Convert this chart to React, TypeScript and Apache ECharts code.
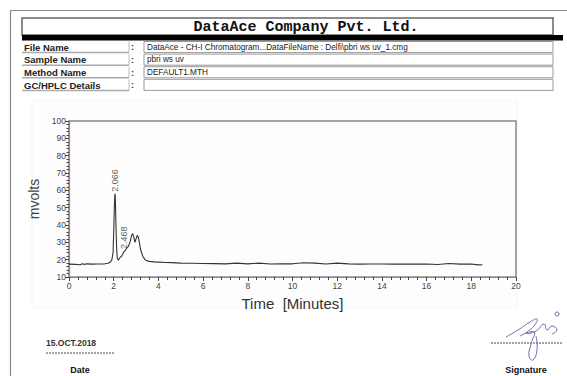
import React, { useEffect, useRef } from "react";
import * as echarts from "echarts";

// ---- data ----
const times = [0, 0.3, 0.5, 0.6, 0.7, 0.8, 1.0, 1.3, 1.6, 1.75, 1.85, 1.92, 1.97, 2.0, 2.03, 2.05, 2.066, 2.08, 2.1, 2.13, 2.16, 2.2, 2.25, 2.3, 2.35, 2.4, 2.45, 2.5, 2.55, 2.6, 2.65, 2.7, 2.75, 2.8, 2.85, 2.9, 2.95, 3.0, 3.05, 3.1, 3.15, 3.2, 3.3, 3.4, 3.5, 3.6, 3.8, 4.0, 4.3, 4.6, 5.0, 5.5, 6.0, 6.5, 7.0, 7.5, 8.0, 8.5, 9.0, 9.5, 10.0, 10.5, 11.0, 11.5, 12.0, 12.5, 13.0, 13.5, 14.0, 14.5, 15.0, 15.5, 16.0, 16.5, 17.0, 17.5, 18.0, 18.3, 18.5];
const mvolts = [17.4, 17.3, 17.1, 17.6, 17.3, 17.6, 17.4, 17.5, 17.6, 17.9, 18.6, 20, 24, 36, 51, 57, 58, 52, 40, 27, 21, 19.8, 20.5, 21.5, 22, 23, 24.5, 25, 26, 27, 27.5, 29, 31, 34, 35, 33, 30, 32, 34, 33, 30, 26, 22, 20, 19.3, 19, 18.7, 18.6, 18.4, 18.3, 18.0, 17.9, 17.8, 17.7, 17.6, 18.0, 17.6, 18.0, 17.5, 17.6, 17.6, 18.2, 18.0, 17.5, 18.0, 17.6, 17.4, 17.5, 17.5, 17.4, 17.5, 17.4, 17.5, 17.2, 17.8, 17.4, 17.5, 17.0, 17.1];
const peakTimes = [2.066, 2.468];
const peakHeights = [58, 25];

const headerTitle = "DataAce Company Pvt. Ltd.";
const rowLabels = ["File Name", "Sample Name", "Method Name", "GC/HPLC Details"];
const rowValues = [
  "DataAce - CH-I Chromatogram...DataFileName : Delfi\\pbri ws uv_1.cmg",
  "pbri ws uv",
  "DEFAULT1.MTH",
  "",
];
const dateText = "15.OCT.2018";

export default function App() {
  const ref = useRef<HTMLDivElement>(null);
  useEffect(() => {
    const chart = echarts.init(ref.current!, null, { renderer: "svg" });
    const pink = "#c4708c";
    const rowTop = 40.5;
    const rowH = 12.6;
    const graphics: any[] = [
      // chart image background
      { type: "rect", shape: { x: 32, y: 100, width: 485, height: 208 }, style: { fill: "#fdfdfd", stroke: "#f5f5f5", lineWidth: 1 }, z: -10 },
      // outer frame
      { type: "line", shape: { x1: 10.5, y1: 10.5, x2: 567, y2: 10.5 }, style: { stroke: "#888", lineWidth: 1.2 } },
      { type: "line", shape: { x1: 10.5, y1: 10.5, x2: 10.5, y2: 376 }, style: { stroke: "#888", lineWidth: 1.2 } },
      // title box
      { type: "rect", shape: { x: 22, y: 18, width: 531, height: 17 }, style: { fill: "#fff", stroke: "#666", lineWidth: 1.5 } },
      { type: "text", x: 306, y: 27, style: { text: headerTitle, font: "bold 15px 'Liberation Mono'", fill: "#111", align: "center", verticalAlign: "middle" } },
      { type: "rect", shape: { x: 22, y: 35, width: 541, height: 5.5 }, style: { fill: "#000" } },
      // footer
      { type: "text", x: 46, y: 343, style: { text: dateText, font: "bold 8.5px 'Liberation Sans'", fill: "#333", verticalAlign: "middle" } },
      { type: "line", shape: { x1: 46, y1: 353, x2: 115, y2: 353 }, style: { stroke: "#444", lineWidth: 1, lineDash: [2, 1] } },
      { type: "text", x: 80, y: 370, style: { text: "Date", font: "bold 9px 'Liberation Sans'", fill: "#111", align: "center", verticalAlign: "middle" } },
      { type: "line", shape: { x1: 491, y1: 343, x2: 562, y2: 343 }, style: { stroke: "#444", lineWidth: 1, lineDash: [2, 1] } },
      { type: "text", x: 526, y: 370, style: { text: "Signature", font: "bold 9px 'Liberation Sans'", fill: "#111", align: "center", verticalAlign: "middle" } },
      // signature scribble
      { type: "polyline", shape: { points: [[506, 337], [518, 330], [530, 322], [537, 319], [534, 326], [526, 333], [536, 331], [544, 324], [547, 330], [552, 326], [557, 330], [552, 334]], smooth: 0.5 }, style: { stroke: "#7a68aa", lineWidth: 1, fill: "none" } },
      { type: "polyline", shape: { points: [[520, 336], [534, 332], [531, 344], [529, 356], [533, 360], [537, 350], [536, 336]], smooth: 0.5 }, style: { stroke: "#7a68aa", lineWidth: 1, fill: "none" } },
      { type: "circle", shape: { cx: 557, cy: 314, r: 2 }, style: { stroke: "#7a68aa", lineWidth: 1, fill: "none" } },
    ];
    rowLabels.forEach((lab, i) => {
      const y = rowTop + i * rowH;
      graphics.push(
        { type: "line", shape: { x1: 22, y1: y + rowH - 0.5, x2: 129, y2: y + rowH - 0.5 }, style: { stroke: "#aaa", lineWidth: 1.5 } },
        { type: "line", shape: { x1: 129, y1: y + 1, x2: 129, y2: y + rowH - 0.5 }, style: { stroke: "#bbb", lineWidth: 1 } },
        { type: "text", x: 24, y: y + rowH / 2 + 0.5, style: { text: lab, font: "bold 9.5px 'Liberation Sans'", fill: "#222", verticalAlign: "middle" } },
        { type: "text", x: 131, y: y + rowH / 2 + 0.5, style: { text: ":", font: "bold 9px 'Liberation Sans'", fill: "#222", verticalAlign: "middle" } },
        { type: "rect", shape: { x: 144, y: y + 1, width: 409, height: rowH - 1.5 }, style: { fill: "none", stroke: "#999", lineWidth: 1 } },
        { type: "text", x: 147, y: y + rowH / 2 + 0.5, style: { text: rowValues[i], font: "8.2px 'Liberation Sans'", fill: "#222", verticalAlign: "middle" } }
      );
    });

    chart.setOption({
      animation: false,
      backgroundColor: "#fff",
      grid: { left: 69, top: 121, width: 447, height: 156, show: true, borderColor: "#888", borderWidth: 1.5, backgroundColor: "transparent" },
      xAxis: {
        type: "value", min: 0, max: 20, interval: 2,
        name: "Time  [Minutes]", nameLocation: "middle", nameGap: 19,
        nameTextStyle: { fontSize: 15, color: "#333", fontFamily: "Liberation Sans" },
        axisLine: { lineStyle: { color: pink, width: 1.2 } },
        axisTick: { length: 4, lineStyle: { color: "#444" } },
        minorTick: { show: true, splitNumber: 5, length: 3, lineStyle: { color: "#444" } },
        axisLabel: { fontSize: 8.5, color: "#444", fontFamily: "Liberation Sans", margin: 4 },
        splitLine: { show: false },
      },
      yAxis: {
        type: "value", min: 10, max: 100, interval: 10,
        name: "mvolts", nameLocation: "middle", nameGap: 20, nameRotate: 90,
        nameTextStyle: { fontSize: 14, color: "#444", fontFamily: "Liberation Sans" },
        axisLine: { show: true, lineStyle: { color: pink, width: 1.2 } },
        axisTick: { show: true, length: 4, lineStyle: { color: "#444" } },
        minorTick: { show: true, splitNumber: 5, length: 2.5, lineStyle: { color: "#444" } },
        axisLabel: { fontSize: 8.5, color: "#444", fontFamily: "Liberation Sans", margin: 3 },
        splitLine: { show: false },
      },
      series: [
        {
          type: "line",
          data: times.map((t, i) => [t, mvolts[i]]),
          showSymbol: false,
          lineStyle: { color: "#333", width: 1.1 },
          silent: true,
        },
        {
          type: "scatter",
          data: peakTimes.map((t, i) => [t, peakHeights[i]]),
          symbolSize: 0,
          label: {
            show: true, position: "top", distance: 2, rotate: 90, align: "left", verticalAlign: "middle",
            formatter: (p: any) => p.value[0].toFixed(3),
            fontSize: 9, color: "#333", fontFamily: "Liberation Sans",
          },
        },
      ],
      graphic: graphics,
    });
    return () => chart.dispose();
  }, []);
  return <div ref={ref} style={{ position: "absolute", left: 0, top: 0, width: 567, height: 376 }} />;
}
